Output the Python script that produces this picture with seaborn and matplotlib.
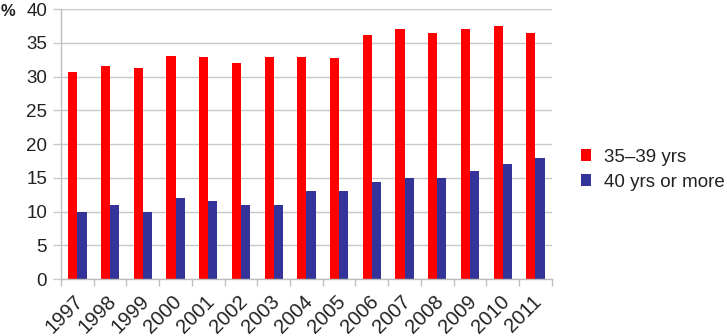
import matplotlib
matplotlib.use("Agg")
import matplotlib.pyplot as plt
from matplotlib.transforms import ScaledTranslation
import numpy as np
import pandas as pd
import seaborn as sns

years = ["1997", "1998", "1999", "2000", "2001", "2002", "2003", "2004",
         "2005", "2006", "2007", "2008", "2009", "2010", "2011"]
age_35_39 = [30.7, 31.6, 31.3, 33.1, 32.9, 32.0, 32.9, 32.9,
             32.7, 36.2, 37.0, 36.5, 37.0, 37.5, 36.5]
age_40_plus = [10.0, 11.0, 10.0, 12.0, 11.5, 10.9, 11.0, 13.0,
               13.0, 14.3, 15.0, 15.0, 16.0, 17.0, 18.0]
series_names = ["35\u201339 yrs", "40 yrs or more"]
colors = ["#FF0000", "#333399"]

df = pd.DataFrame({
    "year": years * 2,
    "value": age_35_39 + age_40_plus,
    "group": [series_names[0]] * len(years) + [series_names[1]] * len(years),
})

sns.set_theme(style="white")
plt.rcParams["font.family"] = ["Liberation Sans", "DejaVu Sans"]

fig = plt.figure(figsize=(7.27, 3.36), dpi=100)
ax = fig.add_axes([0.0839, 0.1696, 0.6751, 0.8035])

sns.barplot(data=df, x="year", y="value", hue="group", order=years,
            hue_order=series_names, palette=colors, width=0.56,
            linewidth=0, saturation=1, ax=ax, legend=True)

ax.set_ylim(0, 40)
ax.set_xlim(-0.5, len(years) - 0.5)
ax.set_yticks(np.arange(0, 41, 5))
ax.yaxis.grid(True, color="#C8C8C8", linewidth=1)
ax.set_axisbelow(True)
ax.set_xlabel("")
ax.set_ylabel("")

for side in ["top", "right"]:
    ax.spines[side].set_visible(False)
for side in ["left", "bottom"]:
    ax.spines[side].set_color("#BDBDBD")
    ax.spines[side].set_linewidth(1)

# category separators as tick marks below the axis
ax.set_xticks(np.arange(-0.5, len(years), 1.0), minor=True)
ax.tick_params(axis="x", which="minor", length=5, color="#BDBDBD", width=1, bottom=True)
ax.tick_params(axis="x", which="major", length=0, pad=9)
ax.tick_params(axis="y", which="major", length=6, color="#C8C8C8", width=1, left=True,
               labelsize=13.5, pad=4, labelcolor="#222222")
ax.set_xticks(range(len(years)))
ax.set_xticklabels(years, rotation=45, ha="right", rotation_mode="anchor",
                   fontsize=14.5, color="#222222")
offset = ScaledTranslation(-2.4 / 72, 0, fig.dpi_scale_trans)
for lbl in ax.get_xticklabels():
    lbl.set_transform(lbl.get_transform() + offset)

fig.text(8 / 727, 1 - 11 / 336, "%", fontsize=12, fontweight="bold",
         color="#222222", ha="center", va="center")

handles, labels = ax.get_legend_handles_labels()
ax.legend(handles, labels, loc="center left", bbox_to_anchor=(0.776, 0.495),
          bbox_transform=fig.transFigure, frameon=False, fontsize=13.5,
          handlelength=0.55, handleheight=0.55, handletextpad=0.65,
          labelspacing=0.43, labelcolor="#222222")

fig.savefig("out.png", dpi=100)
